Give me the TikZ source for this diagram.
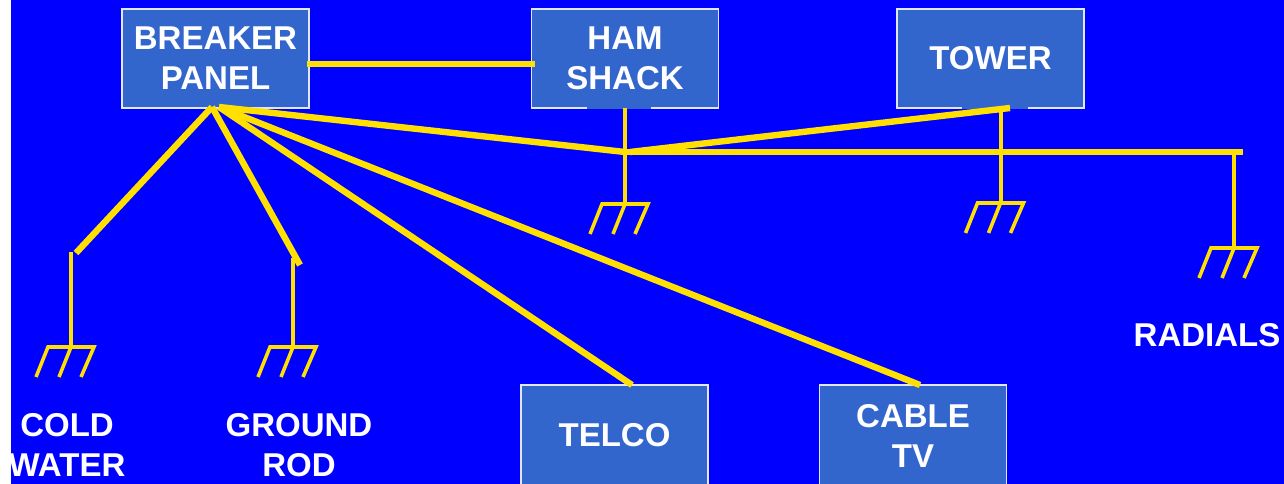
\documentclass[tikz,border=0pt]{standalone}
\usepackage{fontspec}
\setmainfont{Liberation Sans}
\definecolor{bgblue}{HTML}{0000FF}
\definecolor{boxblue}{HTML}{3366CC}
\definecolor{wire}{HTML}{FFE000}
\newcommand{\lowr}[1]{\raisebox{-1pt}{#1}}
\tikzset{
  x=1pt,y=-1pt,
  lbl/.style={text=white,font=\fontsize{33}{40}\selectfont\bfseries,align=center,inner sep=0pt},
  boxed/.style={lbl,draw=white!85!boxblue,line width=1.6pt,fill=boxblue,minimum width=187pt,minimum height=99pt},
  tallbox/.style={boxed,minimum height=101pt},
  heavy/.style={draw=wire,line width=6.4pt},
  thin wire/.style={draw=wire,line width=4pt},
  tine/.style={draw=wire,line width=3.6pt},
  patch/.style={draw=boxblue,line width=2pt},
  pics/gnd/.style={code={
    \draw[tine,line join=miter] (-35,30) -- (-23,0) -- (23,0) -- (10,30);
    \draw[tine] (-12,30) -- (0,0);
  }}
}
\begin{document}
\begin{tikzpicture}
\useasboundingbox (0,0) rectangle (1284,484);
\fill[white] (0,0) rectangle (1284,484);
\begin{scope}
\clip (11,0) rectangle (1284,484);
\fill[bgblue] (11,0) rectangle (1284,484);
% boxes
\node[boxed] (panel) at (215.5,58.5) {\lowr{BREAKER}\\\lowr{PANEL}};
\node[boxed] (ham) at (625,58.5) {\lowr{HAM}\\\lowr{SHACK}};
\node[boxed] (tower) at (990.5,58.5) {\lowr{TOWER}};
\node[tallbox] (telco) at (614.5,435.5) {\lowr{TELCO}};
\node[tallbox] (cable) at (913,435.5) {CABLE\\TV};
\draw[patch] (587,108) -- (651,108);
\draw[patch] (962,108) -- (1028,108);
% labels
\node[lbl] (cold) at (67,445) {COLD\\WATER};
\node[lbl] (rod) at (299,445) {GROUND\\ROD};
\node[lbl] (radials) at (1207,335) {RADIALS};
% junctions
\coordinate (apex) at (212,107);
\coordinate (apexr) at (219,107);
\coordinate (panelout) at (307,64);
\coordinate (hamin) at (535,64);
\coordinate (coldtop) at (76,253);
\coordinate (rodtop) at (300,265);
\coordinate (telcotop) at (632,385);
\coordinate (cabletop) at (920,385);
\coordinate (hub) at (625,152);
\coordinate (hubr) at (630,152);
\coordinate (busend) at (1243,152);
\coordinate (towerend) at (1010,108);
\coordinate (coldstem) at (71,252);
\coordinate (rodstem) at (293,258);
\coordinate (coldg) at (71,347);
\coordinate (rodg) at (293,347);
\coordinate (hamg) at (625,204);
\coordinate (towerg) at (1000.5,203);
\coordinate (radg) at (1234,248);
\coordinate (towerstem) at (1000.5,110);
\coordinate (radstem) at (1234,152);
\coordinate (hamstem) at (625,108);
% stems
\draw[thin wire] (hamstem) -- (hamg);
\draw[thin wire] (towerstem) -- (towerg);
\draw[thin wire] (radstem) -- (radg);
\draw[thin wire] (coldstem) -- (coldg);
\draw[thin wire] (rodstem) -- (rodg);
% grounds
\pic at (coldg) {gnd};
\pic at (rodg) {gnd};
\pic at (hamg) {gnd};
\pic at (towerg) {gnd};
\pic at (radg) {gnd};
% heavy wires
\draw[heavy] (panelout) -- (hamin);
\draw[heavy] (apex) -- (coldtop);
\draw[heavy] (apex) -- (rodtop);
\draw[heavy] (apexr) -- (telcotop);
\draw[heavy] (apexr) -- (cabletop);
\draw[heavy] (apexr) -- (hub);
\draw[heavy] (hubr) -- (towerend);
\draw[heavy] (hub) -- (busend);
\end{scope}
\end{tikzpicture}
\end{document}
